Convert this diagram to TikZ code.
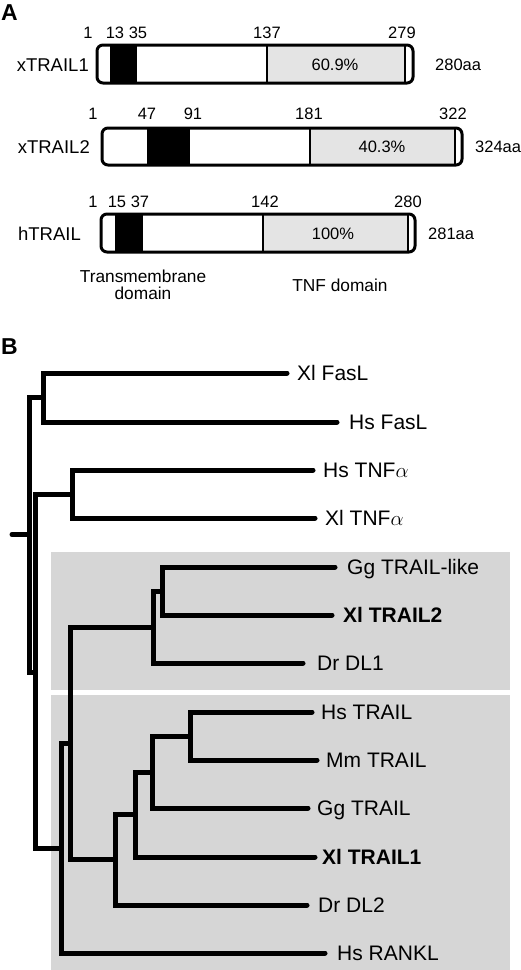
\documentclass[tikz,border=0pt]{standalone}
\usepackage{fontspec}
\setmainfont{Liberation Sans}
\definecolor{bggray}{RGB}{214,214,214}
\definecolor{bargray}{RGB}{228,228,228}
\begin{document}
\begin{tikzpicture}[x=1pt,y=-1pt,
  tl/.style={line width=5pt, line cap=round, line join=miter},
  lab/.style={anchor=base west, inner sep=0pt, font=\fontsize{21}{22}\selectfont},
  blab/.style={lab, font=\fontsize{21}{22}\selectfont\bfseries},
  num/.style={anchor=base, inner sep=0pt, font=\fontsize{16.5}{18}\selectfont},
  nm/.style={anchor=base east, inner sep=0pt, font=\fontsize{18.5}{20}\selectfont},
  aa/.style={anchor=base west, inner sep=0pt, font=\fontsize{16.5}{18}\selectfont},
  dom/.style={anchor=base, inner sep=0pt, font=\fontsize{17.3}{19}\selectfont},
  panel/.style={anchor=base west, inner sep=0pt, font=\fontsize{23}{25}\selectfont\bfseries},
  barline/.style={line width=3pt, rounded corners=6pt},
  divline/.style={line width=2.4pt}]
\useasboundingbox (0,0) rectangle (520,970);

% ---------------- Panel A ----------------
\node[panel] (pA) at (1,20) {A};

% xTRAIL1
\fill[white] (97,45) rectangle (413,83);
\fill[black] (110,45) rectangle (137,83);
\fill[bargray] (267,45) rectangle (405,83);
\draw[divline] (267,45) -- (267,83);
\draw[divline] (405,45) -- (405,83);
\draw[barline] (97,45) rectangle (413,83);
\node[num] (n11) at (88,38) {1};
\node[num] (n12) at (115,38) {13};
\node[num] (n13) at (138,38) {35};
\node[num] (n14) at (267,38) {137};
\node[num] (n15) at (402,38) {279};
\node[nm] (b1) at (89,71) {xTRAIL1};
\node[num] (p1) at (335,70) {60.9\%};
\node[aa] (a1) at (435,70) {280aa};

% xTRAIL2
\fill[white] (102,128) rectangle (462,165);
\fill[black] (147,128) rectangle (190,165);
\fill[bargray] (310,128) rectangle (455,165);
\draw[divline] (310,128) -- (310,165);
\draw[divline] (455,128) -- (455,165);
\draw[barline] (102,128) rectangle (462,165);
\node[num] (n21) at (93,119) {1};
\node[num] (n22) at (147,119) {47};
\node[num] (n23) at (193,119) {91};
\node[num] (n24) at (309,119) {181};
\node[num] (n25) at (453,119) {322};
\node[nm] (b2) at (90,153) {xTRAIL2};
\node[num] (p2) at (382,152) {40.3\%};
\node[aa] (a2) at (475,152) {324aa};

% hTRAIL
\fill[white] (101,214) rectangle (415,252);
\fill[black] (115,214) rectangle (143,252);
\fill[bargray] (263,214) rectangle (408,252);
\draw[divline] (263,214) -- (263,252);
\draw[divline] (408,214) -- (408,252);
\draw[barline] (101,214) rectangle (415,252);
\node[num] (n31) at (93,207) {1};
\node[num] (n32) at (117,207) {15};
\node[num] (n33) at (140,207) {37};
\node[num] (n34) at (265,207) {142};
\node[num] (n35) at (408,207) {280};
\node[nm] (b3) at (81,240) {hTRAIL};
\node[num] (p3) at (333,239) {100\%};
\node[aa] (a3) at (428,239) {281aa};

\node[dom] (tm1) at (143,282) {Transmembrane};
\node[dom] (tm2) at (143,299) {domain};
\node[dom] (tnf) at (340,291) {TNF domain};

% ---------------- Panel B ----------------
\node[panel] (pB) at (1,354) {B};

\fill[bggray] (51,552) rectangle (510,690);
\fill[bggray] (51,695) rectangle (510,970);

% internal nodes
\coordinate (stub) at (12,534.5);
\coordinate (R)  at (29,534.5);
\coordinate (F)  at (43,397.5);
\coordinate (N1) at (35,672);
\coordinate (T)  at (72,494);
\coordinate (N2) at (61,848);
\coordinate (N3) at (70,743);
\coordinate (N4) at (153,627);
\coordinate (N5) at (162,591);
\coordinate (N6) at (115,859);
\coordinate (N7) at (135,814);
\coordinate (N8) at (152,772);
\coordinate (N9) at (190,736);

% leaf ends
\coordinate (eXlFasL) at (287,373);
\coordinate (eHsFasL) at (337,422);
\coordinate (eHsTNF)  at (313,470);
\coordinate (eXlTNF)  at (315,518);
\coordinate (eGgTL)   at (335,567);
\coordinate (eXlT2)   at (332,615);
\coordinate (eDrDL1)  at (303,663);
\coordinate (eHsT)    at (312,712);
\coordinate (eMmT)    at (317,760);
\coordinate (eGgT)    at (308,808);
\coordinate (eXlT1)   at (315,857);
\coordinate (eDrDL2)  at (307,905);
\coordinate (eHsRANKL) at (325,953);

% labels
\node[lab]  (XlFasL) at (297,380.5) {Xl FasL};
\node[lab]  (HsFasL) at (349,429.5) {Hs FasL};
\node[lab]  (HsTNF)  at (323,477.5) {Hs TNF$\alpha$};
\node[lab]  (XlTNF)  at (325,525.5) {Xl TNF$\alpha$};
\node[lab]  (GgTL)   at (347,574.5) {Gg TRAIL-like};
\node[blab] (XlT2)   at (343,622.5) {Xl TRAIL2};
\node[lab]  (DrDL1)  at (317,670.5) {Dr DL1};
\node[lab]  (HsT)    at (321,719.5) {Hs TRAIL};
\node[lab]  (MmT)    at (326,767.5) {Mm TRAIL};
\node[lab]  (GgT)    at (317,815.5) {Gg TRAIL};
\node[blab] (XlT1)   at (322,864.5) {Xl TRAIL1};
\node[lab]  (DrDL2)  at (318,912.5) {Dr DL2};
\node[lab]  (HsRANKL) at (337,960.5) {Hs RANKL};

% branches
\draw[tl] (stub) -- (R);
\draw[tl] (R) |- (F);
\draw[tl] (R) |- (N1);
\draw[tl] (F) |- (eXlFasL);
\draw[tl] (F) |- (eHsFasL);
\draw[tl] (N1) |- (T);
\draw[tl] (N1) |- (N2);
\draw[tl] (T) |- (eHsTNF);
\draw[tl] (T) |- (eXlTNF);
\draw[tl] (N2) |- (N3);
\draw[tl] (N2) |- (eHsRANKL);
\draw[tl] (N3) |- (N4);
\draw[tl] (N3) |- (N6);
\draw[tl] (N4) |- (N5);
\draw[tl] (N4) |- (eDrDL1);
\draw[tl] (N5) |- (eGgTL);
\draw[tl] (N5) |- (eXlT2);
\draw[tl] (N6) |- (N7);
\draw[tl] (N6) |- (eDrDL2);
\draw[tl] (N7) |- (N8);
\draw[tl] (N7) |- (eXlT1);
\draw[tl] (N8) |- (N9);
\draw[tl] (N8) |- (eGgT);
\draw[tl] (N9) |- (eHsT);
\draw[tl] (N9) |- (eMmT);
\end{tikzpicture}
\end{document}
